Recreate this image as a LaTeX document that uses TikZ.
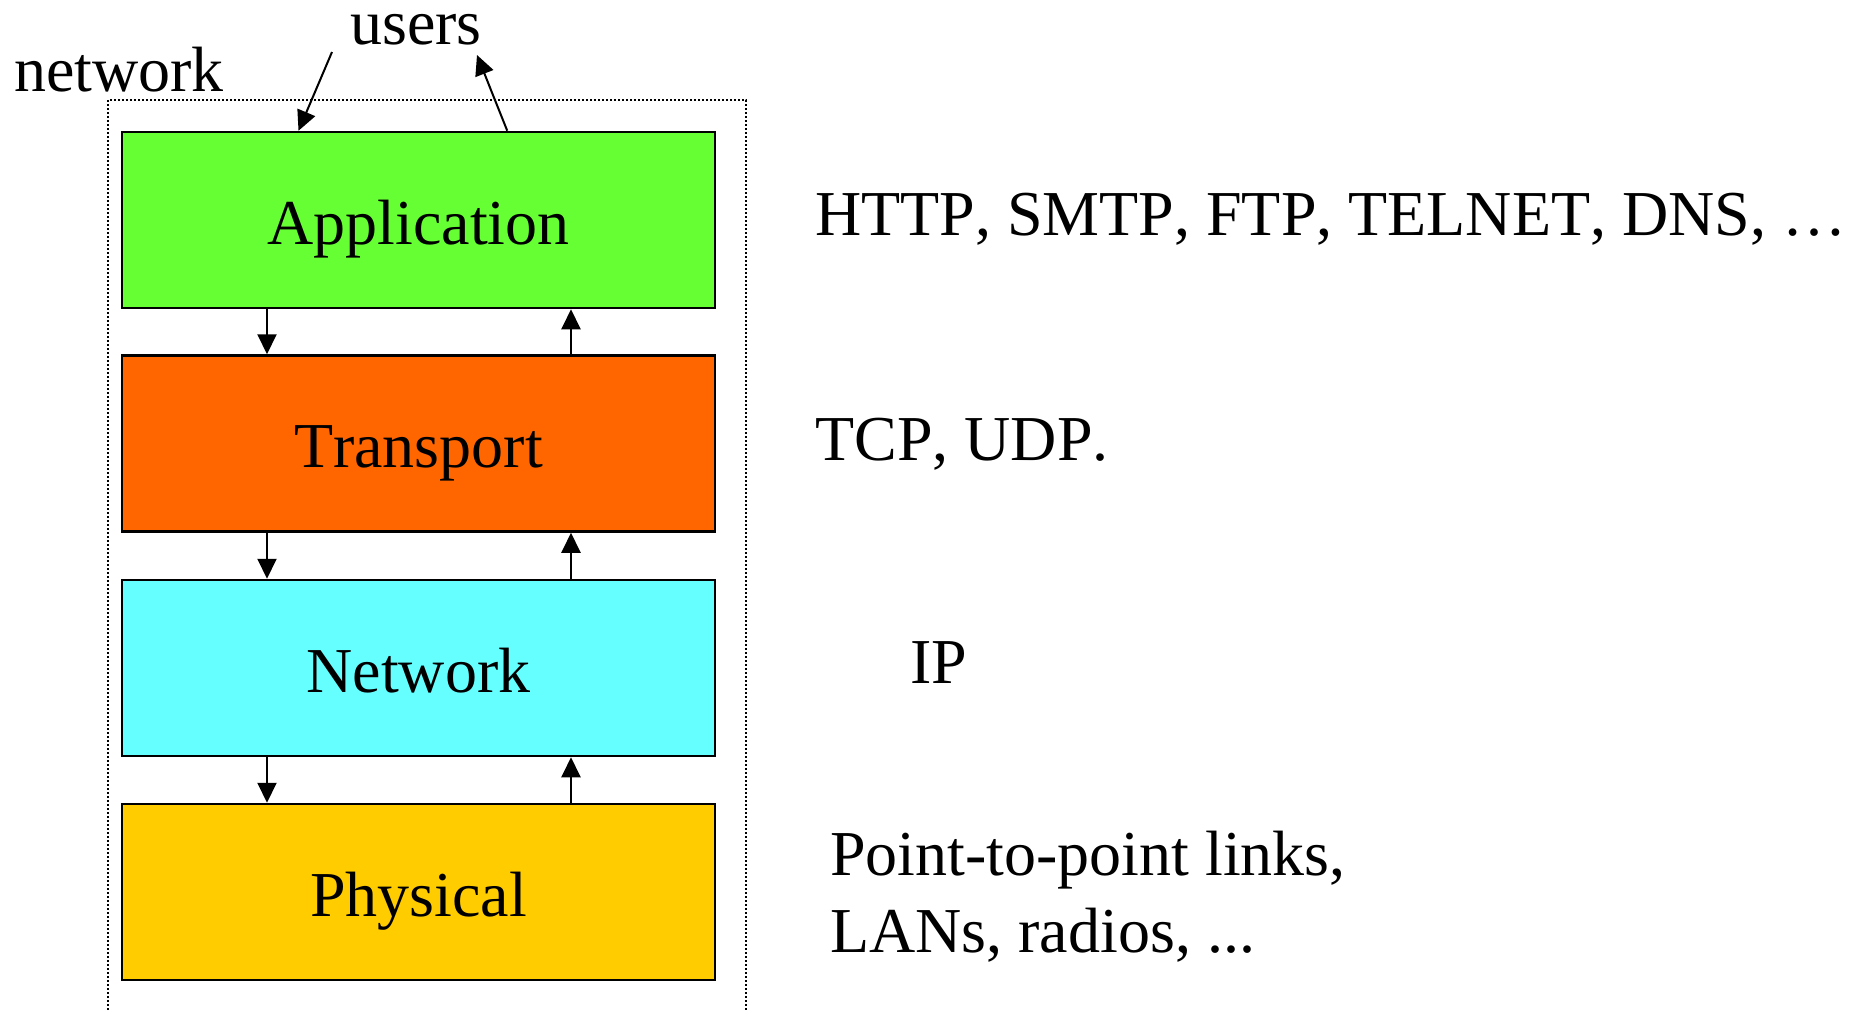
\documentclass[tikz,border=0pt]{standalone}
\usepackage{fontspec}
\setmainfont[Kerning=Off]{Liberation Serif}
\usetikzlibrary{arrows.meta,calc}

\definecolor{appgreen}{HTML}{66FF33}
\definecolor{traorange}{HTML}{FF6600}
\definecolor{netcyan}{HTML}{66FFFF}
\definecolor{phyyellow}{HTML}{FFCC00}

\begin{document}
\begin{tikzpicture}[x=1pt,y=-1pt,
  layer/.style={draw=black, line width=2.5pt, minimum width=593pt, minimum height=176pt,
                inner sep=0pt, text height=48pt, text depth=0pt,
                font=\fontsize{64}{77}\selectfont},
  flow/.style={line width=2pt, -{Triangle[length=20pt,width=19pt]}},
  lbl/.style={inner sep=0pt, font=\fontsize{64}{77}\selectfont},
  frame/.style={line width=1.6pt, dash pattern=on 2pt off 2pt}]

\useasboundingbox (0,0) rectangle (1863,1010);

% dotted outline of the network stack, open at the bottom
\draw[frame] (108,1010) -- (108,100) -- (746,100) -- (746,1010);

% protocol layers
\node[layer, fill=appgreen]  (app) at (418.5,220)   {Application};
\node[layer, fill=traorange] (tra) at (418.5,443.5) {Transport};
\node[layer, fill=netcyan]   (net) at (418.5,668)   {Network};
\node[layer, fill=phyyellow] (phy) at (418.5,892)   {Physical};

% columns for the down and up arrows
\coordinate (dn) at (267,0);
\coordinate (up) at (571,0);

\draw[flow] (app.south -| dn) -- (tra.north -| dn);
\draw[flow] (tra.north -| up) -- (app.south -| up);
\draw[flow] (tra.south -| dn) -- (net.north -| dn);
\draw[flow] (net.north -| up) -- (tra.south -| up);
\draw[flow] (net.south -| dn) -- (phy.north -| dn);
\draw[flow] (phy.north -| up) -- (net.south -| up);

% users above the stack
\node[lbl, anchor=base] (users) at (416,44) {users};
\node[lbl, anchor=base west] (netlbl) at (14,91) {network};
\coordinate (uin) at (332,52);
\coordinate (uout) at (477,55);
\draw[flow] (uin) -- ($(app.north west)!0.2985!(app.north east)$);
\draw[flow] ($(app.north west)!0.649!(app.north east)$) -- (uout);

% example protocols per layer
\node[lbl, anchor=base west] (pa) at (815,235) {HTTP, SMTP, FTP, TELNET, DNS, …};
\node[lbl, anchor=base west] (pt) at (815,460) {TCP, UDP.};
\node[lbl, anchor=base west] (pn) at (910,683) {IP};
\node[lbl, anchor=base west] (pp1) at (830,875) {Point-to-point links,};
\node[lbl, anchor=base west] (pp2) at (830,952) {LANs, radios, ...};
\end{tikzpicture}
\end{document}
